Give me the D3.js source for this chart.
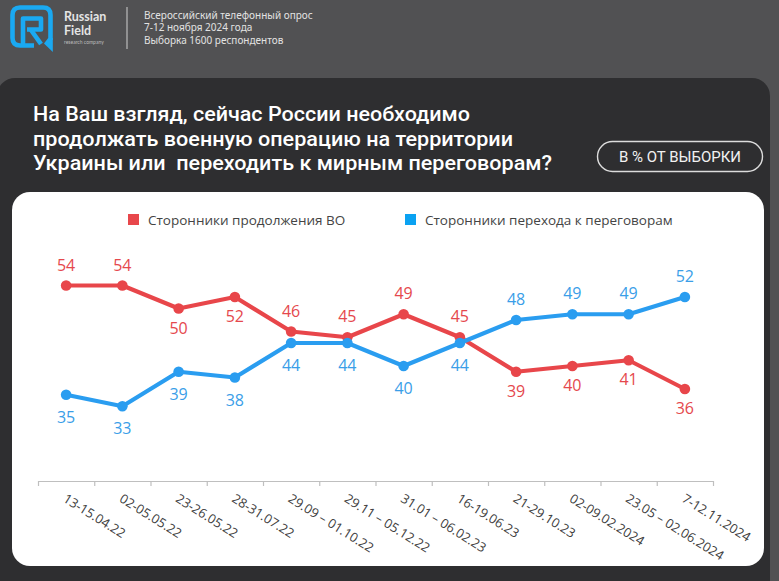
<!DOCTYPE html>
<html>
<head>
<meta charset="utf-8">
<script src="https://cdn.jsdelivr.net/npm/d3@7"></script>
<style>
  html, body { margin: 0; padding: 0; background: #515153; }
  svg { display: block; }
  text { white-space: pre; }
</style>
</head>
<body>
<svg id="chart" width="779" height="581"></svg>
<script>
// ---------- DATA ----------
const categories = [
  "13-15.04.22", "02-05.05.22", "23-26.05.22", "28-31.07.22",
  "29.09 – 01.10.22", "29.11 – 05.12.22", "31.01 – 06.02.23", "16-19.06.23",
  "21-29.10.23", "02-09.02.2024", "23.05 – 02.06.2024", "7-12.11.2024"
];
const continueVO   = [54, 54, 50, 52, 46, 45, 49, 45, 39, 40, 41, 36];
const negotiations = [35, 33, 39, 38, 44, 44, 40, 44, 48, 49, 49, 52];
const continueLabelSide     = ["above","above","below","below","above","above","above","above","below","below","below","below"];
const negotiationsLabelSide = ["below","below","below","below","below","below","below","below","above","above","above","above"];
const seriesNames = ["Сторонники продолжения ВО", "Сторонники перехода к переговорам"];
const titleLines = [
  "На Ваш взгляд, сейчас России необходимо",
  "продолжать военную операцию на территории",
  "Украины или  переходить к мирным переговорам?"
];
const badgeText = "В % ОТ ВЫБОРКИ";
const brandLines = ["Russian", "Field"];
const brandSub = "research company";
const headerLines = ["Всероссийский телефонный опрос", "7-12 ноября 2024 года", "Выборка 1600 респондентов"];

// ---------- STYLE ----------
const RED = "#e8464a", BLUE = "#2a9df0";
const RED_TXT = "#e5484d", BLUE_TXT = "#3a9ee8";

const svg = d3.select("#chart");

// header background
svg.append("rect").attr("x",0).attr("y",0).attr("width",779).attr("height",581).attr("fill","#515153");

// logo
const logo = svg.append("g").attr("fill","none").attr("stroke","#1aa9f2")
  .attr("stroke-width",4.6).attr("stroke-linejoin","round").attr("stroke-linecap","butt");
logo.append("path").attr("d","M34,45.5 H20 Q12.5,45.5 12.5,38 V15 Q12.5,7.5 20,7.5 H43 Q50.5,7.5 50.5,15 V40");
logo.append("path").attr("fill","#1aa9f2").attr("stroke","none").attr("d","M48.2,38 H52.8 V52 L44,43.5 Z");
logo.append("path").attr("d","M23,45.5 V18.5 H41 V29.5 H27");
logo.append("path").attr("d","M31,30 L41,44");

brandLines.forEach((t,i) => {
  svg.append("text").attr("x",64).attr("y",20.5 + i*14).text(t)
    .attr("font-family","Lato").attr("font-weight","bold").attr("font-size",12.5).attr("fill","#e4e4e4");
});
svg.append("text").attr("x",64).attr("y",44).text(brandSub)
  .attr("font-family","Lato").attr("font-size",5).attr("fill","#bdbdbd");
svg.append("line").attr("x1",127).attr("x2",127).attr("y1",7).attr("y2",49)
  .attr("stroke","#bdbdbd").attr("stroke-width",1.2);
headerLines.forEach((t,i) => {
  svg.append("text").attr("x",144).attr("y",18.5 + i*12.7).text(t)
    .attr("font-family","Noto Sans").attr("font-size",10).attr("fill","#e2e2e2");
});

// dark panel
svg.append("rect").attr("x",-3).attr("y",78).attr("width",773).attr("height",520).attr("rx",18)
  .attr("fill","#2e2e30");

// title
const titleWidths = [437, 480, 519];
titleLines.forEach((t,i) => {
  svg.append("text").attr("x",33).attr("y",121 + i*24.5).text(t)
    .attr("font-family","Roboto").attr("font-weight",500).attr("font-size",20)
    .attr("fill","#ffffff")
    .attr("textLength", titleWidths[i]).attr("lengthAdjust","spacingAndGlyphs");
});

// badge
svg.append("rect").attr("x",597.5).attr("y",141.5).attr("width",165).attr("height",30).attr("rx",15)
  .attr("fill","none").attr("stroke","#dcdcdc").attr("stroke-width",1.4);
svg.append("text").attr("x",680).attr("y",162).attr("text-anchor","middle").text(badgeText)
  .attr("font-family","Roboto").attr("font-size",15).attr("fill","#f2f2f2")
  .attr("textLength",122).attr("lengthAdjust","spacingAndGlyphs");

// white card
svg.append("rect").attr("x",12).attr("y",192).attr("width",752).attr("height",374).attr("rx",18)
  .attr("fill","#ffffff");

// legend
const legendItems = [
  {name: seriesNames[0], color: "#e8474b", x: 128},
  {name: seriesNames[1], color: "#0aa2f2", x: 405}
];
legendItems.forEach(d => {
  svg.append("rect").attr("x",d.x).attr("y",214).attr("width",11).attr("height",11).attr("fill",d.color);
  svg.append("text").attr("x",d.x+20).attr("y",225).text(d.name)
    .attr("font-family","Open Sans").attr("font-size",13.5).attr("fill","#444");
});

// scales
const x = d3.scaleBand().domain(categories).range([38, 713]);
const xb = d3.scaleLinear().domain([0, categories.length]).range([38, 713]);
const y = d3.scaleLinear().domain([20, 60]).range([481, 251]);
const cx = c => x(c) + x.bandwidth()/2;

// axis (ticks at band boundaries)
const axis = svg.append("g").attr("transform","translate(0,481)")
  .call(d3.axisBottom(xb).tickValues(d3.range(categories.length+1)).tickFormat("").tickSize(5).tickSizeOuter(0));
axis.select(".domain").attr("stroke","#bfbfbf").attr("stroke-width",1.2);
axis.selectAll(".tick line").attr("stroke","#bfbfbf").attr("stroke-width",1.2);

svg.append("g").selectAll("text").data(categories).join("text")
  .attr("transform", d => `translate(${cx(d)-4},501) rotate(32)`)
  .attr("font-family","Open Sans").attr("font-size",13).attr("fill","#404040")
  .text(d => d);

// series
const line = d3.line().x((d,i) => cx(categories[i])).y(d => y(d));
const series = [
  {values: continueVO, color: RED, txt: RED_TXT, side: continueLabelSide, below: 25},
  {values: negotiations, color: BLUE, txt: BLUE_TXT, side: negotiationsLabelSide, below: 28}
];
series.forEach(s => {
  const g = svg.append("g");
  g.append("path").datum(s.values).attr("d", line).attr("fill","none")
    .attr("stroke", s.color).attr("stroke-width",4.2).attr("stroke-linejoin","round");
  g.selectAll("circle").data(s.values).join("circle")
    .attr("cx",(d,i) => cx(categories[i])).attr("cy", d => y(d)).attr("r",5.3).attr("fill", s.color);
  g.selectAll("text").data(s.values).join("text")
    .attr("x",(d,i) => cx(categories[i]))
    .attr("y",(d,i) => y(d) + (s.side[i] === "above" ? -15 : s.below))
    .attr("text-anchor","middle")
    .attr("font-family","Open Sans").attr("font-size",16).attr("fill", s.txt)
    .text(d => d);
});
</script>
</body>
</html>
